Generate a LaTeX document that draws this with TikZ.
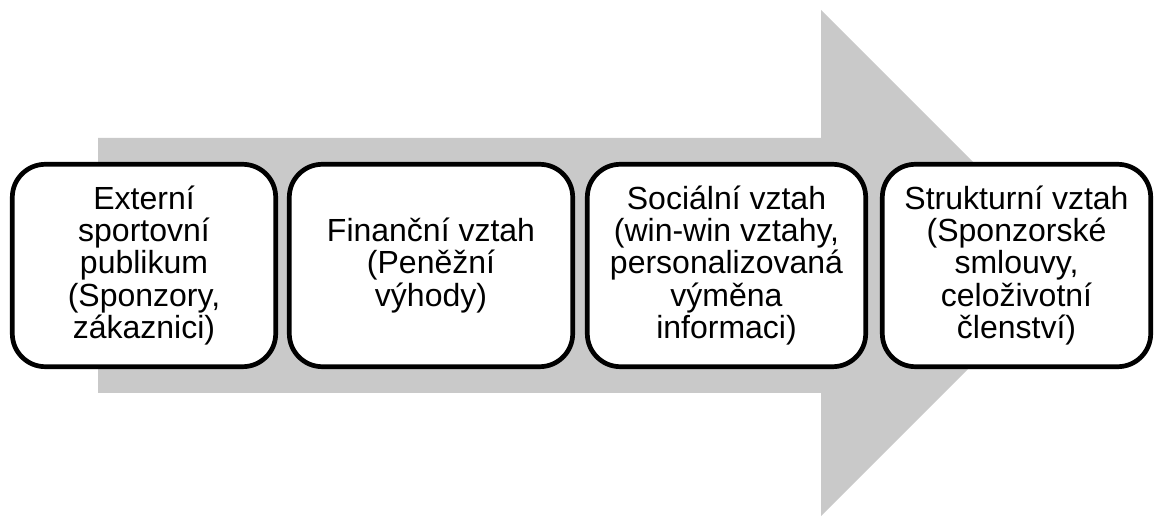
\documentclass[tikz,border=0pt]{standalone}
\usepackage{fontspec}
\setmainfont{Liberation Sans}
\definecolor{shaft}{RGB}{201,201,201}
\definecolor{ink}{RGB}{0,0,0}
\usetikzlibrary{positioning}
\tikzset{
  stage/.style={draw=ink, fill=white, line width=2.35pt, rounded corners=16.5pt,
               minimum height=101.2pt, inner sep=3pt, align=center,
               font=\fontsize{16}{16.2}\selectfont, text=ink},
  bigarrow/.style={fill=shaft, draw=none},
}
\begin{document}
\begin{tikzpicture}[x=0.5pt,y=-0.5pt]
    \useasboundingbox (0,0) rectangle (1154,517);
    % --- the grey arrow behind ---
    \fill[bigarrow] (98,138) -- (821,138) -- (821,10) -- (1074,263)
      -- (821,516) -- (821,393) -- (98,393) -- cycle;
    % --- the four stages ---
    \node[stage,minimum width=131.7pt] (ext) at (144,265.5)
      {Externí\\sportovní\\publikum\\(Sponzory,\\zákaznici)};
    \node[stage,minimum width=141.7pt] (fin) at (431,265.5)
      {Finanční vztah\\(Peněžní\\výhody)};
    \node[stage,minimum width=139.2pt] (soc) at (726.5,265.5)
      {Sociální vztah\\(win-win vztahy,\\personalizovaná\\výměna\\informaci)};
    \node[stage,minimum width=134.2pt] (str) at (1016.5,265.5)
      {Strukturní vztah\\(Sponzorské\\smlouvy,\\celoživotní\\členství)};
\end{tikzpicture}
\end{document}
